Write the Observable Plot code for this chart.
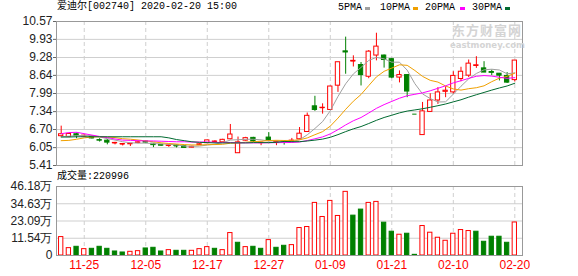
<!DOCTYPE html>
<html><head><meta charset="utf-8">
<script src="https://cdn.jsdelivr.net/npm/d3@7"></script>
<script src="https://cdn.jsdelivr.net/npm/@observablehq/plot@0.6"></script>
<style>
html,body{margin:0;padding:0;background:#fff}
body{width:578px;height:276px;overflow:hidden;position:relative;font-family:"Liberation Sans",sans-serif}
.t{position:absolute;white-space:nowrap;line-height:12px}
.mono{font-family:"Liberation Mono","Noto Sans CJK SC",monospace;font-size:10px;color:#000}
.mk{position:absolute;width:5px;height:3px}
#price,#vol{position:absolute;left:0}
#price{top:0}
#vol{top:176px}
.wm{position:absolute;color:#d4d4d4;font-weight:bold;white-space:nowrap}
</style></head><body>
<div id="price"></div>
<div id="vol"></div>
<div class="t mono" style="left:57px;top:1px">爱迪尔[002740] 2020-02-20 15:00</div>
<div class="t mono" style="left:338px;top:2px">5PMA</div><div class="mk" style="left:365px;top:7px;background:#a0a0a0"></div>
<div class="t mono" style="left:380px;top:2px">10PMA</div><div class="mk" style="left:413px;top:7px;background:#f0a000"></div>
<div class="t mono" style="left:425px;top:2px">20PMA</div><div class="mk" style="left:460px;top:7px;background:#ff00ff"></div>
<div class="t mono" style="left:472px;top:2px">30PMA</div><div class="mk" style="left:505px;top:7px;background:#006a30"></div>
<div class="wm" style="left:452px;top:23px;font-family:'Noto Sans CJK SC';font-size:13px;line-height:13px;letter-spacing:1px">东方财富网</div>
<div class="wm" style="left:450px;top:41px;font-family:'DejaVu Sans';font-size:8.5px;line-height:9px">eastmoney.com</div>
<div class="t mono" style="left:57px;top:171px">成交量:220996</div>
<script>
// ---- data ----
const dates = ["11-20","11-21","11-22","11-25","11-26","11-27","11-28","11-29","12-02","12-03",
"12-04","12-05","12-06","12-09","12-10","12-11","12-12","12-13","12-16","12-17",
"12-18","12-19","12-20","12-23","12-24","12-25","12-26","12-27","12-30","12-31",
"01-02","01-03","01-06","01-07","01-08","01-09","01-10","01-13","01-14","01-15",
"01-16","01-17","01-20","01-21","01-22","01-23","02-03","02-04","02-05","02-06",
"02-07","02-10","02-11","02-12","02-13","02-14","02-17","02-18","02-19","02-20"];
const open  = [6.46,6.43,6.53,6.45,6.45,6.32,6.30,6.21,6.17,6.17,6.22,6.27,6.19,6.15,6.12,6.13,6.10,6.05,6.14,6.21,
6.26,6.24,6.35,5.85,6.30,6.40,6.22,6.41,6.24,6.27,6.27,6.35,6.61,7.53,7.47,7.40,8.27,9.50,9.14,9.01,
8.59,9.35,9.35,9.22,8.56,8.65,7.25,6.50,7.33,7.74,8.05,8.03,8.51,8.63,8.98,8.89,8.76,8.70,8.62,8.47];
const high  = [6.82,6.55,6.57,6.50,6.47,6.37,6.34,6.24,6.19,6.20,6.29,6.28,6.20,6.16,6.14,6.14,6.10,6.10,6.19,6.32,
6.30,6.35,6.88,6.43,6.42,6.42,6.24,6.59,6.28,6.28,6.38,6.77,7.29,7.89,7.62,8.25,9.11,10.01,9.34,9.10,
9.53,10.15,9.37,9.25,8.80,8.66,7.25,7.67,7.98,8.20,8.23,8.77,8.93,9.19,9.31,9.13,8.83,8.70,8.74,9.17];
const low   = [6.43,6.41,6.37,6.42,6.36,6.25,6.15,6.15,6.11,6.09,6.19,6.22,6.05,6.10,6.06,6.04,6.03,6.04,6.13,6.20,
6.22,6.23,6.33,5.85,6.28,6.23,6.12,6.29,6.12,6.14,6.25,6.33,6.60,7.35,7.25,7.38,8.03,8.68,8.94,8.26,
8.52,9.16,8.90,8.52,8.37,7.84,7.25,6.50,7.33,7.60,7.84,7.96,8.41,8.56,8.89,8.74,8.63,8.44,8.35,8.40];
const close = [6.53,6.54,6.47,6.48,6.38,6.30,6.23,6.22,6.18,6.19,6.24,6.23,6.14,6.12,6.13,6.11,6.04,6.08,6.17,6.31,
6.27,6.33,6.52,6.24,6.39,6.27,6.23,6.31,6.26,6.24,6.30,6.55,7.19,7.40,7.48,8.24,9.11,9.46,9.16,8.65,
9.49,9.67,9.19,8.56,8.65,8.06,7.25,7.35,7.74,8.03,8.09,8.62,8.77,9.06,9.00,8.74,8.73,8.63,8.38,9.17];
// volume in 万 (10k shares)
const volume = [12.33,4.93,5.83,4.26,4.48,5.83,4.48,2.69,2.02,2.47,2.91,4.71,5.16,2.69,3.59,3.14,3.14,3.14,4.26,5.61,
4.48,3.59,15.02,8.52,5.61,5.83,4.48,10.31,5.16,6.50,6.95,18.38,19.06,35.20,25.78,36.54,26.46,42.60,26.68,30.72,
35.20,35.87,21.97,15.92,13.90,14.57,0.45,19.73,15.25,11.88,9.86,14.57,17.04,16.37,15.92,9.19,12.56,12.56,8.52,22.10];
// moving-average values at the start of the window (before enough closes are visible)
const ma5Head  = [6.44,6.46,6.48,6.49];
const ma10Head = [6.30,6.31,6.35,6.40,6.43,6.44,6.43,6.41,6.37];
const ma20Head = [6.55,6.59,6.60,6.55,6.50,6.45,6.41,6.36,6.32,6.31,6.30,6.29,6.29,6.28,6.27,6.26,6.26,6.25,6.25];
const ma30Head = [6.43,6.43,6.44,6.44,6.44,6.44,6.44,6.44,6.44,6.44,6.44,6.44,6.44,6.44,6.40,6.34,6.30,6.26,6.24,6.23,
6.22,6.22,6.22,6.22,6.22,6.23,6.23,6.23,6.24];
const priceTicks = [10.57,9.93,9.28,8.64,7.99,7.34,6.70,6.05,5.41];
const volTicks = [0,11.54,23.09,34.63,46.18];
const dateTicks = ["11-25","12-05","12-17","12-27","01-09","01-21","02-10","02-20"];
const maNames = ["5PMA","10PMA","20PMA","30PMA"];

// ---- build ----
const RED = "#ff0000", GREEN = "#008000";
const rows = dates.map((d, i) => {
  const o = open[i], c = close[i];
  const prev = i ? close[i - 1] : o;
  const up = c > o || (c === o && c >= prev);
  return {i, d, o, h: high[i], l: low[i], c, v: volume[i], up, vup: c >= prev};
});
function ma(n, head) {
  return dates.map((d, i) => {
    if (i < head.length) return {i, v: head[i]};
    let s = 0; for (let k = i - n + 1; k <= i; k++) s += close[k];
    return {i, v: s / n};
  });
}
const maSeries = [
  {name: maNames[0], color: "#a0a0a0", data: ma(5, ma5Head)},
  {name: maNames[1], color: "#f0a000", data: ma(10, ma10Head)},
  {name: maNames[2], color: "#ff00ff", data: ma(20, ma20Head)},
  {name: maNames[3], color: "#006a30", data: ma(30, ma30Head)}
];
const tickIdx = dateTicks.map(t => dates.indexOf(t));
const xDom = [-0.61, 60.0];
const W = 0.28;
const col = d => d.up ? RED : GREEN;

const price = Plot.plot({
  width: 578, height: 175,
  marginLeft: 56, marginRight: 56, marginTop: 21, marginBottom: 10,
  style: {fontFamily: "Liberation Sans", fontSize: "12px", color: "#222", background: "transparent"},
  x: {type: "linear", domain: xDom, axis: null},
  y: {domain: [5.41, 10.57], axis: null},
  marks: [
    Plot.gridY(priceTicks, {stroke: "#cfcfcf", strokeOpacity: 1}),
    Plot.ruleX(tickIdx, {stroke: "#cfcfcf", strokeDasharray: "4,3"}),
    Plot.ruleX(rows, {x: "i", y1: "l", y2: "h", stroke: col}),
    Plot.rect(rows, {x1: d => d.i - W, x2: d => d.i + W, y1: "o", y2: "c",
      fill: d => d.up ? "#ffffff" : GREEN, stroke: col}),
    Plot.ruleY(rows.filter(d => Math.abs(d.o - d.c) < 0.02), {y: "c", x1: d => d.i - W, x2: d => d.i + W, stroke: col}),
    ...maSeries.map(s => Plot.line(s.data, {x: "i", y: "v", stroke: s.color, strokeWidth: 1})),
    Plot.frame({stroke: "#999"}),
    Plot.axisY(priceTicks, {tickFormat: d => d.toFixed(2), tickSize: 3, tickPadding: 1, stroke: "#666", label: null})
  ]
});
document.getElementById("price").appendChild(price);

const vol = Plot.plot({
  width: 578, height: 100,
  marginLeft: 56, marginRight: 56, marginTop: 10, marginBottom: 21,
  style: {fontFamily: "Liberation Sans", fontSize: "12px", color: "#222", background: "transparent"},
  x: {type: "linear", domain: xDom, axis: null},
  y: {domain: [0, 46.18], axis: null},
  marks: [
    Plot.gridY(volTicks, {stroke: "#cfcfcf", strokeOpacity: 1}),
    Plot.ruleX(tickIdx, {stroke: "#cfcfcf", strokeDasharray: "4,3"}),
    Plot.rect(rows, {x1: d => d.i - W, x2: d => d.i + W, y1: 0, y2: "v",
      fill: d => d.vup ? "#ffffff" : GREEN, stroke: d => d.vup ? RED : GREEN}),
    Plot.frame({stroke: "#999"}),
    Plot.axisY(volTicks, {tickFormat: d => d === 0 ? "0" : d.toFixed(2) + "万", tickSize: 0, tickPadding: 4, label: null}),
    Plot.axisX(tickIdx, {tickFormat: i => dates[i], tickSize: 0, tickPadding: 5, fill: RED, label: null})
  ]
});
document.getElementById("vol").appendChild(vol);
</script>
</body></html>
